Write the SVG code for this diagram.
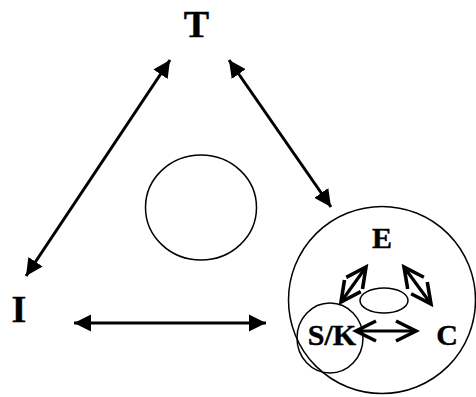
<svg xmlns="http://www.w3.org/2000/svg" width="476" height="397" viewBox="0 0 476 397">
<style>
.lbl{font-family:"Liberation Serif","Times New Roman",serif;font-weight:bold;fill:#000;stroke:#000;stroke-width:0.4}
.big{font-size:38px}
.sm{font-size:30px}
.shape{fill:none;stroke:#000;stroke-width:1.5}
.conn{stroke:#000;stroke-width:3;fill:none}
.open{stroke:#000;stroke-width:3.2;fill:none;stroke-linecap:butt}
</style>
<defs>
<marker id="solid" viewBox="0 0 10 10" refX="10" refY="5" markerWidth="5.7" markerHeight="5.7" markerUnits="strokeWidth" orient="auto-start-reverse">
<path d="M0,0 L10,5 L0,10 z" fill="#000"/>
</marker>
<marker id="vee" viewBox="0 0 26 26" refX="22" refY="13" markerWidth="26" markerHeight="26" markerUnits="userSpaceOnUse" orient="auto-start-reverse">
<path d="M2,3 L22,13 L2,23" fill="none" stroke="#000" stroke-width="3.6"/>
</marker>
</defs>
<g id="node-T"><text class="lbl big" x="196.5" y="36.5" text-anchor="middle">T</text></g>
<g id="node-I"><text class="lbl big" x="19" y="322" text-anchor="middle">I</text></g>
<g id="node-center"><ellipse class="shape" cx="201" cy="207.5" rx="55.5" ry="52.5"/></g>
<g id="node-group">
<ellipse class="shape" cx="382" cy="300" rx="93.5" ry="93.5"/>
</g>
<g id="node-E"><text class="lbl sm" x="382" y="247.5" text-anchor="middle">E</text></g>
<g id="node-mid"><ellipse class="shape" cx="384" cy="300.5" rx="24" ry="12.5"/></g>
<g id="node-SK"><ellipse class="shape" cx="330" cy="338" rx="33" ry="35"/><text class="lbl sm" x="332" y="344.5" text-anchor="middle">S/K</text></g>
<g id="node-C"><text class="lbl sm" x="447" y="344.5" text-anchor="middle">C</text></g>
<g id="connectors">
<line class="conn" x1="170" y1="60" x2="26" y2="276" marker-start="url(#solid)" marker-end="url(#solid)"/>
<line class="conn" x1="229" y1="60" x2="331" y2="207" marker-start="url(#solid)" marker-end="url(#solid)"/>
<line class="conn" x1="74" y1="323" x2="266" y2="323" marker-start="url(#solid)" marker-end="url(#solid)"/>
<line class="open" x1="356" y1="331" x2="416" y2="331" marker-start="url(#vee)" marker-end="url(#vee)"/>
<line class="open" x1="341" y1="302" x2="366" y2="267" marker-start="url(#vee)" marker-end="url(#vee)"/>
<line class="open" x1="404" y1="267" x2="431" y2="304" marker-start="url(#vee)" marker-end="url(#vee)"/>
</g>
</svg>
